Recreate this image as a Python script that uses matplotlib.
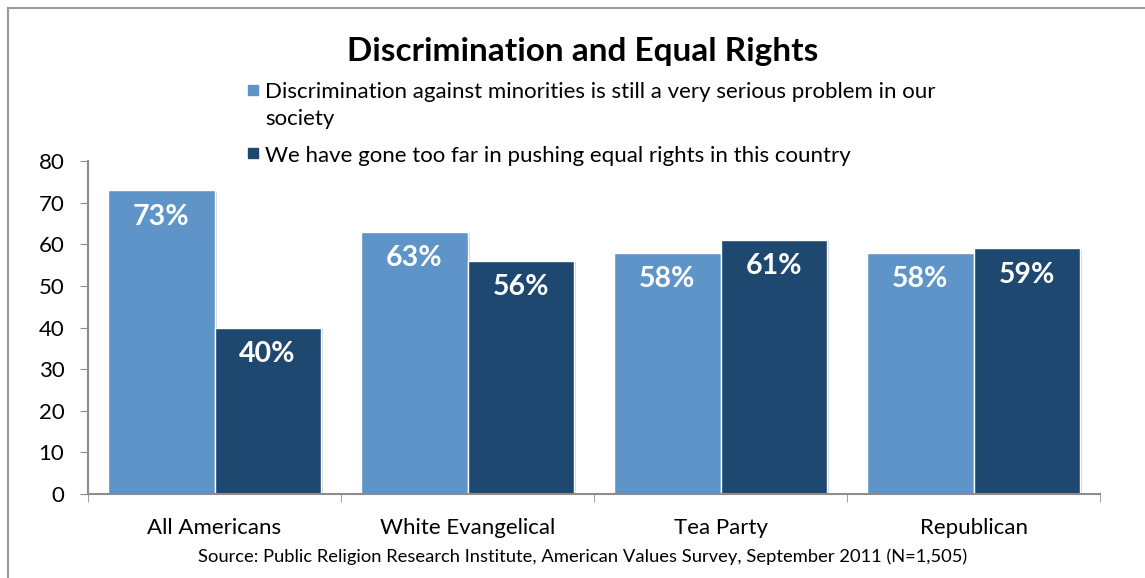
import matplotlib.pyplot as plt
from matplotlib.patches import Rectangle
from matplotlib.lines import Line2D
import matplotlib.patheffects as pe
import numpy as np

# dados do grafico
categorias = ["All Americans", "White Evangelical", "Tea Party", "Republican"]
discriminacao = [73, 63, 58, 58]
longe_demais = [40, 56, 61, 59]
legendas = ["Discrimination against minorities is still a very serious problem in our\nsociety",
            "We have gone too far in pushing equal rights in this country"]
titulo = "Discrimination and Equal Rights"
fonte = "Source: Public Religion Research Institute, American Values Survey, September 2011 (N=1,505)"

cor_clara = "#5E94C8"
cor_escura = "#1F4870"
cinza = "#8C8C8C"

plt.rcParams['font.family'] = ['Lato', 'DejaVu Sans']

fig = plt.figure(figsize=(11.45, 5.78), dpi=100)
ax = fig.add_axes([88/1145, 1 - 494/578, (1100 - 88)/1145, (494 - 161)/578])

x = np.arange(len(categorias))
w = 0.42
sombra = [pe.SimplePatchShadow(offset=(1.5, -1), shadow_rgbFace="#808080", alpha=0.35), pe.Normal()]
b1 = ax.bar(x - w/2, discriminacao, w, color=cor_clara, edgecolor="white", linewidth=1,
            path_effects=sombra)
b2 = ax.bar(x + w/2, longe_demais, w, color=cor_escura, edgecolor="white", linewidth=1,
            path_effects=sombra)

# rotulos dentro das barras
for barras, valores in [(b1, discriminacao), (b2, longe_demais)]:
    for barra, v in zip(barras, valores):
        ax.annotate(f"{v}%", (barra.get_x() + barra.get_width()/2, v),
                    xytext=(0, -19), textcoords="offset points",
                    ha="center", va="center", color="white",
                    fontsize=20.5, fontweight="bold")

ax.set_xlim(-0.5, len(categorias) - 0.5)
ax.set_ylim(0, 80)
ax.set_yticks(range(0, 81, 10))
ax.set_xticks(x)
ax.set_xticklabels(categorias, fontsize=16)
ax.set_xticks(np.arange(-0.5, len(categorias), 1), minor=True)
ax.tick_params(axis="x", which="major", length=0, pad=17)
ax.tick_params(axis="x", which="minor", length=6, color=cinza, direction="out")
ax.tick_params(axis="y", length=6, color=cinza, labelsize=16, pad=11)

for lado in ["top", "right"]:
    ax.spines[lado].set_visible(False)
ax.spines["left"].set_color(cinza)
ax.spines["bottom"].set_color(cinza)
ax.spines["left"].set_linewidth(1.5)
ax.spines["bottom"].set_linewidth(1.5)

# titulo
fig.text(583/1145, 1 - 52/578, titulo, ha="center", va="center",
         fontsize=24, fontweight="bold")

# legenda manual
for (y_q, y_t), cor, texto in zip([(90, 82), (153, 156)], [cor_clara, cor_escura], legendas):
    fig.add_artist(Rectangle((248/1145, 1 - (y_q + 5)/578), 10/1145, 10/578,
                             transform=fig.transFigure, color=cor))
    fig.text(265/1145, 1 - y_t/578, texto, ha="left", va="top" if "\n" in texto else "center",
             fontsize=16, linespacing=1.45)

# fonte
fig.text(583/1145, 1 - 557/578, fonte, ha="center", va="center", fontsize=13.2)

# moldura
fig.add_artist(Line2D([8/1145, 1], [1 - 8/578, 1 - 8/578], transform=fig.transFigure,
                      color="#9A9A9A", linewidth=1.5))
fig.add_artist(Line2D([8/1145, 8/1145], [0, 1 - 8/578], transform=fig.transFigure,
                      color="#9A9A9A", linewidth=1.5))

fig.savefig("out.png", dpi=100)
